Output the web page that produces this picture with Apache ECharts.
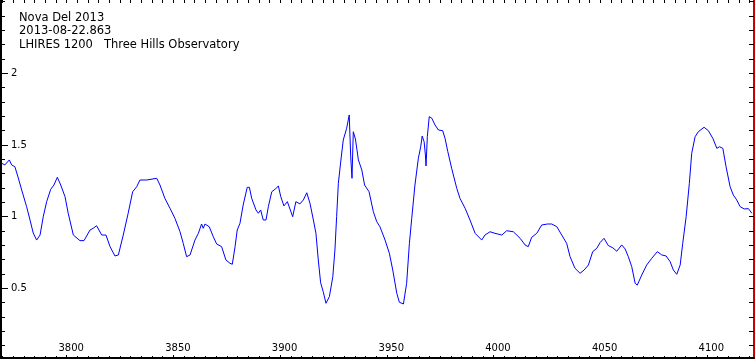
<!DOCTYPE html>
<html><head><meta charset="utf-8">
<script src="https://cdn.jsdelivr.net/npm/echarts@6/dist/echarts.min.js"></script>
<style>html,body{margin:0;padding:0;background:#fff}#c{width:755px;height:360px}</style>
</head><body><div id="c"></div>
<script>
const titleLines = ["Nova Del 2013", "2013-08-22.863", "LHIRES 1200   Three Hills Observatory"];
const xTickLabels = [3800, 3850, 3900, 3950, 4000, 4050, 4100];
const yTickLabels = [0.5, 1, 1.5, 2];
const X_MIN = 3769.2, X_MAX = 4122.1, X_MINOR = 5;
const Y_MIN = 0.014, Y_MAX = 2.512, Y_MINOR = 0.1;

const wavelength = [
3769.5,3771.0,3773.1,3774.2,3775.7,3777.3,3778.9,3781.2,3782.8,3784.3,
3785.9,3787.5,3789.0,3790.6,3792.5,3794.0,3795.6,3797.2,3799.2,3800.7,
3803.1,3806.2,3808.1,3810.9,3812.4,3814.0,3816.4,3818.4,3820.3,3822.6,
3824.2,3826.5,3828.8,3830.9,3832.8,3834.3,3837.5,3842.2,3843.7,3846.0,
3848.4,3850.7,3853.1,3854.6,3856.2,3857.8,3860.1,3861.7,3863.2,3864.0,
3864.8,3866.8,3868.7,3870.3,3872.6,3874.6,3876.5,3877.6,3878.9,3879.9,
3881.2,3882.7,3884.6,3885.6,3886.7,3888.7,3889.8,3890.9,3892.1,3893.4,
3894.5,3896.1,3897.6,3899.2,3900.3,3901.8,3903.4,3904.3,3905.9,3907.4,
3909.3,3910.9,3912.5,3914.0,3915.6,3916.8,3917.9,3919.0,3920.2,3921.5,
3923.1,3924.7,3925.7,3926.5,3927.3,3928.4,3929.6,3931.2,3932.4,3933.1,
3933.7,3934.3,3935.3,3936.7,3938.3,3939.6,3941.7,3943.7,3945.3,3946.8,
3949.2,3951.2,3952.8,3954.7,3955.9,3957.8,3959.3,3960.6,3961.7,3963.2,
3964.8,3965.9,3966.6,3967.5,3968.1,3968.4,3969.0,3969.9,3971.1,3972.6,
3974.2,3976.2,3977.3,3978.6,3980.4,3982.8,3984.3,3986.7,3989.0,3991.4,
3994.5,3996.0,3998.4,4000.7,4003.9,4006.2,4009.3,4012.5,4014.8,4016.3,
4017.9,4020.3,4022.6,4025.3,4027.3,4029.7,4032.0,4034.3,4035.9,4038.2,
4040.6,4042.5,4044.5,4046.5,4048.4,4050.0,4051.8,4053.8,4056.0,4057.8,
4060.1,4061.7,4063.2,4064.8,4066.4,4067.4,4069.5,4071.8,4074.2,4076.8,
4078.9,4080.9,4082.8,4084.3,4085.9,4087.5,4088.7,4090.3,4091.8,4092.9,
4094.5,4096.0,4098.7,4100.7,4102.8,4104.7,4105.9,4107.5,4109.0,4110.9,
4112.4,4114.0,4115.6,4117.5,4119.5,4121.1
];
const flux = [
1.373,1.361,1.396,1.361,1.349,1.270,1.186,1.070,0.977,0.886,
0.837,0.872,1.000,1.105,1.191,1.221,1.275,1.221,1.140,1.024,
0.872,0.833,0.833,0.907,0.919,0.937,0.872,0.872,0.791,0.726,
0.733,0.872,1.024,1.174,1.209,1.256,1.256,1.268,1.221,1.128,
1.059,0.989,0.895,0.814,0.721,0.733,0.837,0.884,0.949,0.919,
0.949,0.930,0.860,0.809,0.791,0.698,0.675,0.668,0.791,0.907,
0.954,1.082,1.205,1.205,1.128,1.047,1.024,1.047,0.977,0.977,
1.070,1.174,1.191,1.214,1.140,1.075,1.105,1.094,1.000,1.105,
1.089,1.117,1.167,1.094,0.977,0.884,0.698,0.539,0.477,0.396,
0.442,0.581,0.768,1.000,1.233,1.382,1.535,1.617,1.710,1.417,
1.268,1.593,1.542,1.396,1.326,1.221,1.174,1.035,0.965,0.930,
0.837,0.745,0.628,0.465,0.403,0.391,0.535,0.814,0.989,1.221,
1.408,1.488,1.563,1.523,1.431,1.354,1.558,1.698,1.687,1.640,
1.605,1.600,1.547,1.454,1.338,1.198,1.128,1.059,0.977,0.884,
0.837,0.872,0.895,0.884,0.872,0.902,0.895,0.849,0.803,0.791,
0.856,0.884,0.942,0.949,0.949,0.930,0.872,0.814,0.721,0.640,
0.605,0.628,0.663,0.756,0.779,0.820,0.849,0.799,0.782,0.759,
0.803,0.775,0.721,0.651,0.535,0.523,0.593,0.663,0.710,0.756,
0.733,0.726,0.686,0.628,0.598,0.663,0.814,1.000,1.233,1.442,
1.558,1.593,1.624,1.600,1.547,1.477,1.488,1.477,1.349,1.209,
1.151,1.117,1.070,1.054,1.056,1.024
];

const xMinor = [];
for (let v = Math.ceil(X_MIN / X_MINOR) * X_MINOR; v <= X_MAX; v += X_MINOR) xMinor.push(v);
const yMinor = [];
for (let k = Math.ceil(Y_MIN / Y_MINOR); k * Y_MINOR <= Y_MAX; k++) yMinor.push(+(k * Y_MINOR).toFixed(1));

const FONT = '"DejaVu Sans", sans-serif';
const data = wavelength.slice(0, Math.min(wavelength.length, flux.length)).map((w, i) => [w, flux[i]]);

const chart = echarts.init(document.getElementById('c'), null, {renderer: 'canvas'});
const baseX = {type: 'value', min: X_MIN, max: X_MAX, splitLine: {show: false}, axisLabel: {show: false}, axisLine: {show: false}, axisTick: {show: false}};
const baseY = {type: 'value', min: Y_MIN, max: Y_MAX, splitLine: {show: false}, axisLabel: {show: false}, axisLine: {show: false}, axisTick: {show: false}};
chart.setOption({
  animation: false,
  backgroundColor: '#ffffff',
  grid: {left: 1, right: 1, top: 0, bottom: 2, containLabel: false},
  xAxis: [
    Object.assign({}, baseX, {position: 'bottom',
      axisLine: {show: true, onZero: false, lineStyle: {color: '#000', width: 2}},
      axisTick: {show: true, inside: true, length: 3, customValues: xTickLabels, lineStyle: {color: '#000', width: 1}},
      axisLabel: {show: true, inside: true, margin: 5, customValues: xTickLabels, color: '#000', fontFamily: FONT, fontSize: 10, padding: [0, 0, 0, 9], formatter: v => String(v)}
    }),
    Object.assign({}, baseX, {position: 'bottom',
      axisTick: {show: true, inside: true, length: 2, customValues: xMinor, lineStyle: {color: '#000', width: 1}}
    }),
    Object.assign({}, baseX, {position: 'top',
      axisTick: {show: true, inside: true, length: 3, customValues: xMinor, lineStyle: {color: '#000', width: 1}}
    })
  ],
  yAxis: [
    Object.assign({}, baseY, {position: 'left',
      axisLine: {show: true, onZero: false, lineStyle: {color: '#000', width: 2}},
      axisTick: {show: true, inside: true, length: 7, customValues: yTickLabels, lineStyle: {color: '#000', width: 1}},
      axisLabel: {show: true, inside: true, margin: 10, customValues: yTickLabels, color: '#000', fontFamily: FONT, fontSize: 10, formatter: v => String(v)}
    }),
    Object.assign({}, baseY, {position: 'left',
      axisTick: {show: true, inside: true, length: 4, customValues: yMinor, lineStyle: {color: '#000', width: 1}}
    }),
    Object.assign({}, baseY, {position: 'right',
      axisLine: {show: true, onZero: false, lineStyle: {color: '#cc0000', width: 2}},
      axisTick: {show: true, inside: true, length: 5, customValues: yMinor, lineStyle: {color: '#000', width: 1}}
    })
  ],
  graphic: titleLines.map((t, i) => ({
    type: 'text', left: 19, top: 12 + i * 13.5,
    style: {text: t, fill: '#000', font: '11.5px ' + FONT}
  })),
  series: [{
    type: 'line', xAxisIndex: 0, yAxisIndex: 0, data: data,
    showSymbol: false, smooth: false,
    lineStyle: {color: '#0000ff', width: 1}
  }]
});
</script>
</body></html>
